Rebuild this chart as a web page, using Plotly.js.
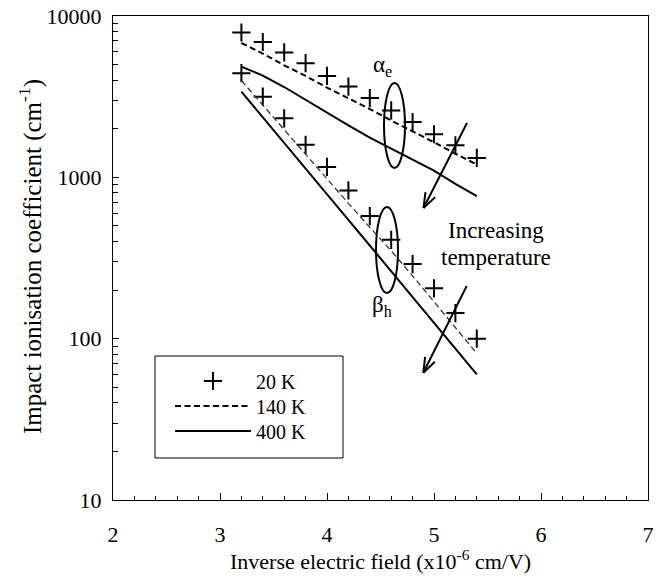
<!DOCTYPE html>
<html>
<head>
<meta charset="utf-8">
<script src="https://cdn.plot.ly/plotly-3.0.1.min.js"></script>
<style>html,body{margin:0;padding:0;background:#fff;}</style>
</head>
<body>
<div id="chart" style="width:657px;height:580px;"></div>
<script>
// Inverse electric field (x10^-6 cm/V)
const inverseField = [3.2, 3.4, 3.6, 3.8, 4.0, 4.2, 4.4, 4.6, 4.8, 5.0, 5.2, 5.4];
// electron coefficient alpha_e (cm^-1)
const alpha20K  = [7900, 6900, 5950, 5100, 4250, 3650, 3100, 2600, 2200, 1850, 1580, 1320];
const alpha140K = [6800, 5850, 4950, 4250, 3600, 3100, 2650, 2250, 1930, 1650, 1400, 1200];
const alpha400K = [4850, 4270, 3630, 3020, 2500, 2100, 1760, 1500, 1290, 1100, 910, 765];
// hole coefficient beta_h (cm^-1)
const beta20K  = [4420, 3160, 2320, 1590, 1160, 830, 575, 410, 290, 205, 144, 100];
const beta140K = [3980, 2800, 1960, 1380, 970, 690, 490, 350, 245, 170, 117, 81];
const beta400K = [3400, 2350, 1630, 1130, 785, 545, 378, 262, 182, 126, 87, 60];
const seriesNames = ['20 K', '140 K', '400 K'];
const yTickVals = [10, 100, 1000, 10000];
const xTitle = 'Inverse electric field (x10<sup>-6</sup> cm/V)';
const yTitle = 'Impact ionisation coefficient (cm<sup>-1</sup>)';

const FONT = "'Liberation Serif', 'DejaVu Serif', serif";
const plus = {symbol: 'cross-thin', size: 13, line: {width: 2, color: 'black'}, color: 'black'};

const traces = [
  {x: inverseField, y: alpha20K, mode: 'markers', marker: plus, name: seriesNames[0], showlegend: true, legend: 'legend'},
  {x: inverseField, y: alpha140K, mode: 'lines', line: {color: 'black', width: 2, dash: '6px,3.5px'}, name: seriesNames[1], showlegend: true, legend: 'legend2'},
  {x: inverseField, y: alpha400K, mode: 'lines', line: {color: 'black', width: 2}, name: seriesNames[2], showlegend: true, legend: 'legend3'},
  {x: inverseField, y: beta20K, mode: 'markers', marker: plus, name: seriesNames[0], showlegend: false},
  {x: inverseField, y: beta140K, mode: 'lines', line: {color: '#333', width: 1.3, dash: '6px,3.5px'}, name: seriesNames[1], showlegend: false},
  {x: inverseField, y: beta400K, mode: 'lines', line: {color: 'black', width: 2}, name: seriesNames[2], showlegend: false}
];

// pixel -> paper helpers (plot area: left 113, right 648, top 16, bottom 500)
const L = 113, R = 648, T = 16, B = 500;
const px = v => (v - L) / (R - L);
const py = v => (B - v) / (B - T);

function arrowShapes(x0, y0, x1, y1) {
  const dx = x1 - x0, dy = y1 - y0, len = Math.hypot(dx, dy);
  const ux = -dx / len, uy = -dy / len, a = 20 * Math.PI / 180, h = 16;
  const rot = s => [x1 + h * (ux * Math.cos(s * a) - uy * Math.sin(s * a)), y1 + h * (ux * Math.sin(s * a) + uy * Math.cos(s * a))];
  const p1 = rot(1), p2 = rot(-1);
  const ln = (ax, ay, bx, by) => ({type: 'line', xref: 'paper', yref: 'paper', x0: px(ax), y0: py(ay), x1: px(bx), y1: py(by), line: {color: 'black', width: 2}});
  return [ln(x0, y0, x1, y1), ln(x1, y1, p1[0], p1[1]), ln(x1, y1, p2[0], p2[1])];
}
function ellipse(x0, y0, x1, y1) {
  return {type: 'circle', xref: 'paper', yref: 'paper', x0: px(x0), y0: py(y1), x1: px(x1), y1: py(y0), line: {color: 'black', width: 2}};
}

const shapes = [
  ellipse(384, 83, 405, 168),
  ellipse(376, 207, 398, 293),
  ...arrowShapes(467, 123, 423.5, 208),
  ...arrowShapes(466.7, 286, 423.3, 372.7),
  {type: 'rect', xref: 'paper', yref: 'paper', x0: px(155), y0: py(458), x1: px(343), y1: py(356), line: {color: 'black', width: 1}}
];

const ann = (text, x, y, size, extra) => Object.assign({text: text, x: px(x), y: py(y), xref: 'paper', yref: 'paper', showarrow: false, xanchor: 'center', yanchor: 'middle', font: {family: FONT, size: size}}, extra || {});
const annotations = [
  ann('α<sub>e</sub>', 382, 66, 23),
  ann('β<sub>h</sub>', 382, 306, 23),
  ann('Increasing', 496, 230, 23),
  ann('temperature', 496, 257, 23),
  ann(xTitle, 380, 560, 22),
  ann(yTitle, 30, 257, 25, {textangle: -90})
];

const legendAt = cy => ({x: px(170), y: py(cy), xanchor: 'left', yanchor: 'middle', bgcolor: 'rgba(0,0,0,0)', borderwidth: 0, itemwidth: 76, font: {family: FONT, size: 20}});

const layout = {
  width: 657, height: 580,
  margin: {l: L, r: 657 - R, t: T, b: 580 - B},
  paper_bgcolor: 'white', plot_bgcolor: 'white',
  font: {family: FONT, size: 22, color: 'black'},
  showlegend: true,
  legend: legendAt(381),
  legend2: legendAt(406),
  legend3: legendAt(431),
  xaxis: {
    range: [2, 7], tick0: 0, dtick: 1, ticks: 'inside', ticklen: 7, tickwidth: 1, tickcolor: 'black',
    showline: true, linecolor: 'black', linewidth: 1, mirror: true, showgrid: false, zeroline: false,
    ticklabelstandoff: 15,
    minor: {dtick: 0.2, ticks: 'inside', ticklen: 4, tickwidth: 1, tickcolor: 'black', showgrid: false}
  },
  yaxis: {
    type: 'log', range: [1, 4], tickmode: 'array', tickvals: yTickVals, ticktext: yTickVals.map(String),
    ticks: 'inside', ticklen: 6, tickwidth: 1, tickcolor: 'black',
    showline: true, linecolor: 'black', linewidth: 1, mirror: true, showgrid: false, zeroline: false,
    ticklabelstandoff: 6,
    minor: {dtick: 'D1', ticks: 'inside', ticklen: 5, tickwidth: 1, tickcolor: 'black', showgrid: false}
  },
  shapes: shapes,
  annotations: annotations
};

Plotly.newPlot('chart', traces, layout, {staticPlot: true, displayModeBar: false});
</script>
</body>
</html>
